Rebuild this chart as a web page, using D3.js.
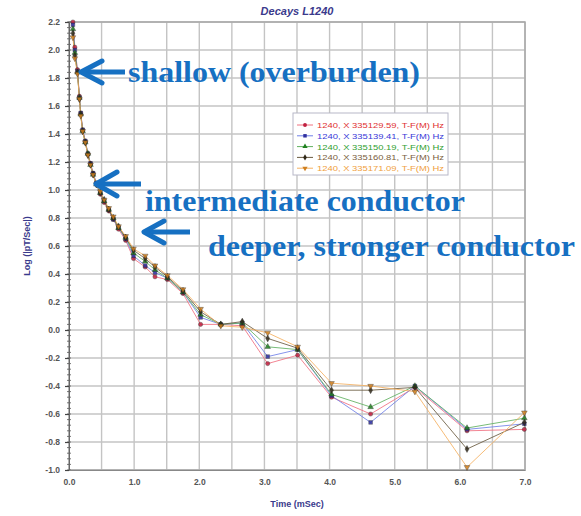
<!DOCTYPE html>
<html>
<head>
<meta charset="utf-8">
<script src="https://cdn.jsdelivr.net/npm/d3@7/dist/d3.min.js"></script>
<style>
  html, body { margin: 0; padding: 0; background: #fff; }
  svg { display: block; }
</style>
</head>
<body>
<svg id="chart" width="581" height="516"></svg>
<script>
// ---------- DATA ----------
const times = [0.06, 0.09, 0.13, 0.16, 0.18, 0.21, 0.25, 0.29, 0.33, 0.37, 0.42, 0.48, 0.54, 0.61, 0.68, 0.76,
               0.87, 0.99, 1.17, 1.32, 1.51, 1.75, 2.02, 2.33, 2.66, 3.05, 3.51, 4.03, 4.63, 5.31, 6.11, 6.99];

const seriesNames = [
  "1240, X 335129.59, T-F(M) Hz",
  "1240, X 335139.41, T-F(M) Hz",
  "1240, X 335150.19, T-F(M) Hz",
  "1240, X 335160.81, T-F(M) Hz",
  "1240, X 335171.09, T-F(M) Hz"
];

const valsRed    = [2.20, 2.02, 1.86, 1.67, 1.55, 1.43, 1.35, 1.26, 1.19, 1.12, 1.05, 0.97, 0.91, 0.85, 0.79, 0.72,
                    0.64, 0.51, 0.45, 0.38, 0.36, 0.26, 0.04, 0.04, 0.03, -0.24, -0.18, -0.48, -0.60, -0.41, -0.72, -0.71];
const valsBlue   = [2.18, 2.00, 1.85, 1.66, 1.55, 1.43, 1.35, 1.26, 1.19, 1.12, 1.05, 0.98, 0.92, 0.86, 0.79, 0.73,
                    0.65, 0.53, 0.46, 0.41, 0.37, 0.27, 0.09, 0.04, 0.05, -0.19, -0.14, -0.47, -0.66, -0.40, -0.71, -0.67];
const valsGreen  = [2.15, 1.98, 1.84, 1.66, 1.54, 1.42, 1.34, 1.26, 1.18, 1.11, 1.04, 0.98, 0.92, 0.86, 0.80, 0.73,
                    0.66, 0.55, 0.49, 0.43, 0.37, 0.27, 0.11, 0.04, 0.05, -0.12, -0.14, -0.46, -0.55, -0.40, -0.70, -0.63];
const valsBrown  = [2.12, 1.96, 1.84, 1.65, 1.54, 1.42, 1.34, 1.25, 1.18, 1.11, 1.04, 0.98, 0.93, 0.86, 0.80, 0.74,
                    0.66, 0.57, 0.51, 0.45, 0.38, 0.28, 0.13, 0.04, 0.06, -0.06, -0.13, -0.43, -0.43, -0.41, -0.85, -0.66];
const valsOrange = [2.09, 1.94, 1.83, 1.65, 1.53, 1.42, 1.34, 1.25, 1.18, 1.11, 1.04, 0.99, 0.93, 0.87, 0.81, 0.74,
                    0.67, 0.58, 0.53, 0.46, 0.39, 0.29, 0.15, 0.03, 0.02, -0.02, -0.12, -0.38, -0.40, -0.44, -0.98, -0.59];

const seriesValues = [valsRed, valsBlue, valsGreen, valsBrown, valsOrange];

const xTickValues = [0, 1, 2, 3, 4, 5, 6, 7];
const xTickLabels = ["0.0", "1.0", "2.0", "3.0", "4.0", "5.0", "6.0", "7.0"];
const yTickValues = [2.2, 2.0, 1.8, 1.6, 1.4, 1.2, 1.0, 0.8, 0.6, 0.4, 0.2, 0.0, -0.2, -0.4, -0.6, -0.8, -1.0];
const yTickLabels = ["2.2", "2.0", "1.8", "1.6", "1.4", "1.2", "1.0", "0.8", "0.6", "0.4", "0.2", "0.0", "-0.2", "-0.4", "-0.6", "-0.8", "-1.0"];

const annotations = [
  { text: "shallow (overburden)", tx: 0.18, ty: 1.85 },
  { text: "intermediate conductor", tx: 0.42, ty: 1.05 },
  { text: "deeper, stronger conductor", tx: 1.14, ty: 0.69 }
];

// ---------- STYLE ----------
const lineColors   = ["#f07080", "#7080e8", "#60b060", "#6a5a40", "#f5b060"];
const markerColors = ["#c02040", "#3030a0", "#208020", "#302818", "#d08020"];
const legendText   = ["#e03030", "#3838d8", "#30a030", "#7a6040", "#f0a040"];
const symbols = [d3.symbolCircle, d3.symbolSquare, d3.symbolTriangle, d3.symbolDiamond, d3.symbolTriangle];

const svg = d3.select("#chart");
const W = 581, H = 516;
const plot = { left: 69, right: 525, top: 22, bottom: 470 };

const x = d3.scaleLinear().domain([0, 7]).range([plot.left, plot.right]);
const y = d3.scaleLinear().domain([-1.0, 2.2]).range([plot.bottom, plot.top]);

// Title
svg.append("text")
  .attr("x", (plot.left + plot.right) / 2).attr("y", 15)
  .attr("text-anchor", "middle")
  .attr("font-family", "Liberation Sans, Arial, sans-serif")
  .attr("font-size", 11).attr("font-weight", "bold").attr("font-style", "italic")
  .attr("fill", "#3a3a8c")
  .text("Decays L1240");

// Grid
const gridV = d3.range(0, 7.01, 0.5);
const gridH = d3.range(-1.0, 2.21, 0.2);
svg.append("g").selectAll("line").data(gridV).join("line")
  .attr("x1", d => x(d)).attr("x2", d => x(d))
  .attr("y1", plot.top).attr("y2", plot.bottom)
  .attr("stroke", "#c4c4c4").attr("stroke-width", 1.4);
svg.append("g").selectAll("line").data(gridH).join("line")
  .attr("x1", plot.left).attr("x2", plot.right)
  .attr("y1", d => y(d)).attr("y2", d => y(d))
  .attr("stroke", "#c4c4c4").attr("stroke-width", 1.4);

// Frame
svg.append("rect")
  .attr("x", plot.left).attr("y", plot.top)
  .attr("width", plot.right - plot.left).attr("height", plot.bottom - plot.top)
  .attr("fill", "none").attr("stroke", "#a8a8a8").attr("stroke-width", 1.5);

// Y axis with minor ticks
const minorY = d3.range(-1.0, 2.201, 0.04);
svg.append("g").selectAll("line").data(minorY).join("line")
  .attr("x1", plot.left - 2).attr("x2", plot.left + 2)
  .attr("y1", d => y(d)).attr("y2", d => y(d))
  .attr("stroke", "#555").attr("stroke-width", 0.8);

const yAxis = d3.axisLeft(y).tickValues(yTickValues)
  .tickFormat((d, i) => yTickLabels[i]).tickSize(4).tickPadding(5);
const gy = svg.append("g").attr("transform", `translate(${plot.left},0)`).call(yAxis);
gy.select(".domain").attr("stroke", "#666");
gy.selectAll(".tick line").attr("stroke", "#444").attr("stroke-width", 1.2);
gy.selectAll(".tick text")
  .attr("font-family", "Liberation Sans, Arial, sans-serif")
  .attr("font-size", 8.5).attr("font-weight", "bold").attr("fill", "#555");

const xAxis = d3.axisBottom(x).tickValues(xTickValues)
  .tickFormat((d, i) => xTickLabels[i]).tickSize(0).tickPadding(9);
const gx = svg.append("g").attr("transform", `translate(0,${plot.bottom})`).call(xAxis);
gx.select(".domain").attr("stroke", "#888");
gx.selectAll(".tick text")
  .attr("font-family", "Liberation Sans, Arial, sans-serif")
  .attr("font-size", 8.5).attr("font-weight", "bold").attr("fill", "#555");

// Axis titles
svg.append("text")
  .attr("x", (plot.left + plot.right) / 2).attr("y", 507)
  .attr("text-anchor", "middle")
  .attr("font-family", "Liberation Sans, Arial, sans-serif")
  .attr("font-size", 9).attr("font-weight", "bold").attr("fill", "#3a3a8c")
  .text("Time (mSec)");
svg.append("text")
  .attr("transform", `translate(30,${(plot.top + plot.bottom) / 2}) rotate(-90)`)
  .attr("text-anchor", "middle")
  .attr("font-family", "Liberation Sans, Arial, sans-serif")
  .attr("font-size", 9).attr("font-weight", "bold").attr("fill", "#3a3a8c")
  .text("Log (|pT/Sec|)");

// Series
const line = d3.line().x(d => x(d.t)).y(d => y(d.v));
seriesValues.forEach((vals, s) => {
  const pts = vals.map((v, i) => ({ t: times[i], v }));
  svg.append("path").datum(pts)
    .attr("d", line).attr("fill", "none")
    .attr("stroke", lineColors[s]).attr("stroke-width", 1).attr("opacity", 0.85);
});
seriesValues.forEach((vals, s) => {
  const pts = vals.map((v, i) => ({ t: times[i], v }));
  svg.append("g").selectAll("path").data(pts).join("path")
    .attr("transform", d => `translate(${x(d.t)},${y(d.v)})${s === 4 ? " rotate(180)" : ""}`)
    .attr("d", d3.symbol().type(symbols[s]).size(14))
    .attr("fill", markerColors[s]).attr("stroke", "#222").attr("stroke-width", 0.4).attr("opacity", 0.85);
});

// Legend
const lg = svg.append("g").attr("transform", "translate(293,113)");
lg.append("rect").attr("width", 155).attr("height", 62)
  .attr("fill", "#fff").attr("stroke", "#b8b8c8").attr("stroke-width", 1);
seriesNames.forEach((name, i) => {
  const yy = 12 + i * 10.8;
  lg.append("line").attr("x1", 4).attr("x2", 20).attr("y1", yy).attr("y2", yy)
    .attr("stroke", lineColors[i]).attr("stroke-width", 1);
  lg.append("path").attr("transform", `translate(12,${yy})${i === 4 ? " rotate(180)" : ""}`)
    .attr("d", d3.symbol().type(symbols[i]).size(12)).attr("fill", markerColors[i]);
  lg.append("text").attr("x", 24).attr("y", yy + 3)
    .attr("font-family", "Liberation Sans, Arial, sans-serif")
    .attr("font-size", 8).attr("fill", legendText[i])
    .attr("textLength", 127).attr("lengthAdjust", "spacingAndGlyphs")
    .text(name);
});

// Annotations (arrows + labels)
const annColor = "#1670c2";
const annSpecs = [
  { tip: [80, 72], shaftEnd: 125, head: 22, half: 11, textX: 128, baseline: 82, len: 292 },
  { tip: [95, 184], shaftEnd: 141, head: 22, half: 12, textX: 145, baseline: 211, len: 320 },
  { tip: [143, 232], shaftEnd: 190, head: 21, half: 11, textX: 208, baseline: 256, len: 367 }
];
annotations.forEach((a, i) => {
  const s = annSpecs[i];
  const g = svg.append("g");
  g.append("line").attr("x1", s.tip[0] + 3).attr("x2", s.shaftEnd)
    .attr("y1", s.tip[1]).attr("y2", s.tip[1])
    .attr("stroke", annColor).attr("stroke-width", 5);
  g.append("path")
    .attr("d", `M${s.tip[0] + s.head},${s.tip[1] - s.half} L${s.tip[0] + 1},${s.tip[1]} L${s.tip[0] + s.head},${s.tip[1] + s.half}`)
    .attr("fill", "none").attr("stroke", annColor).attr("stroke-width", 5)
    .attr("stroke-linecap", "round").attr("stroke-linejoin", "round");
  g.append("text").attr("x", s.textX).attr("y", s.baseline)
    .attr("font-family", "Liberation Serif, 'Times New Roman', serif")
    .attr("font-weight", "bold").attr("font-size", 30)
    .attr("fill", annColor)
    .attr("textLength", s.len).attr("lengthAdjust", "spacingAndGlyphs")
    .text(a.text);
});
</script>
</body>
</html>
